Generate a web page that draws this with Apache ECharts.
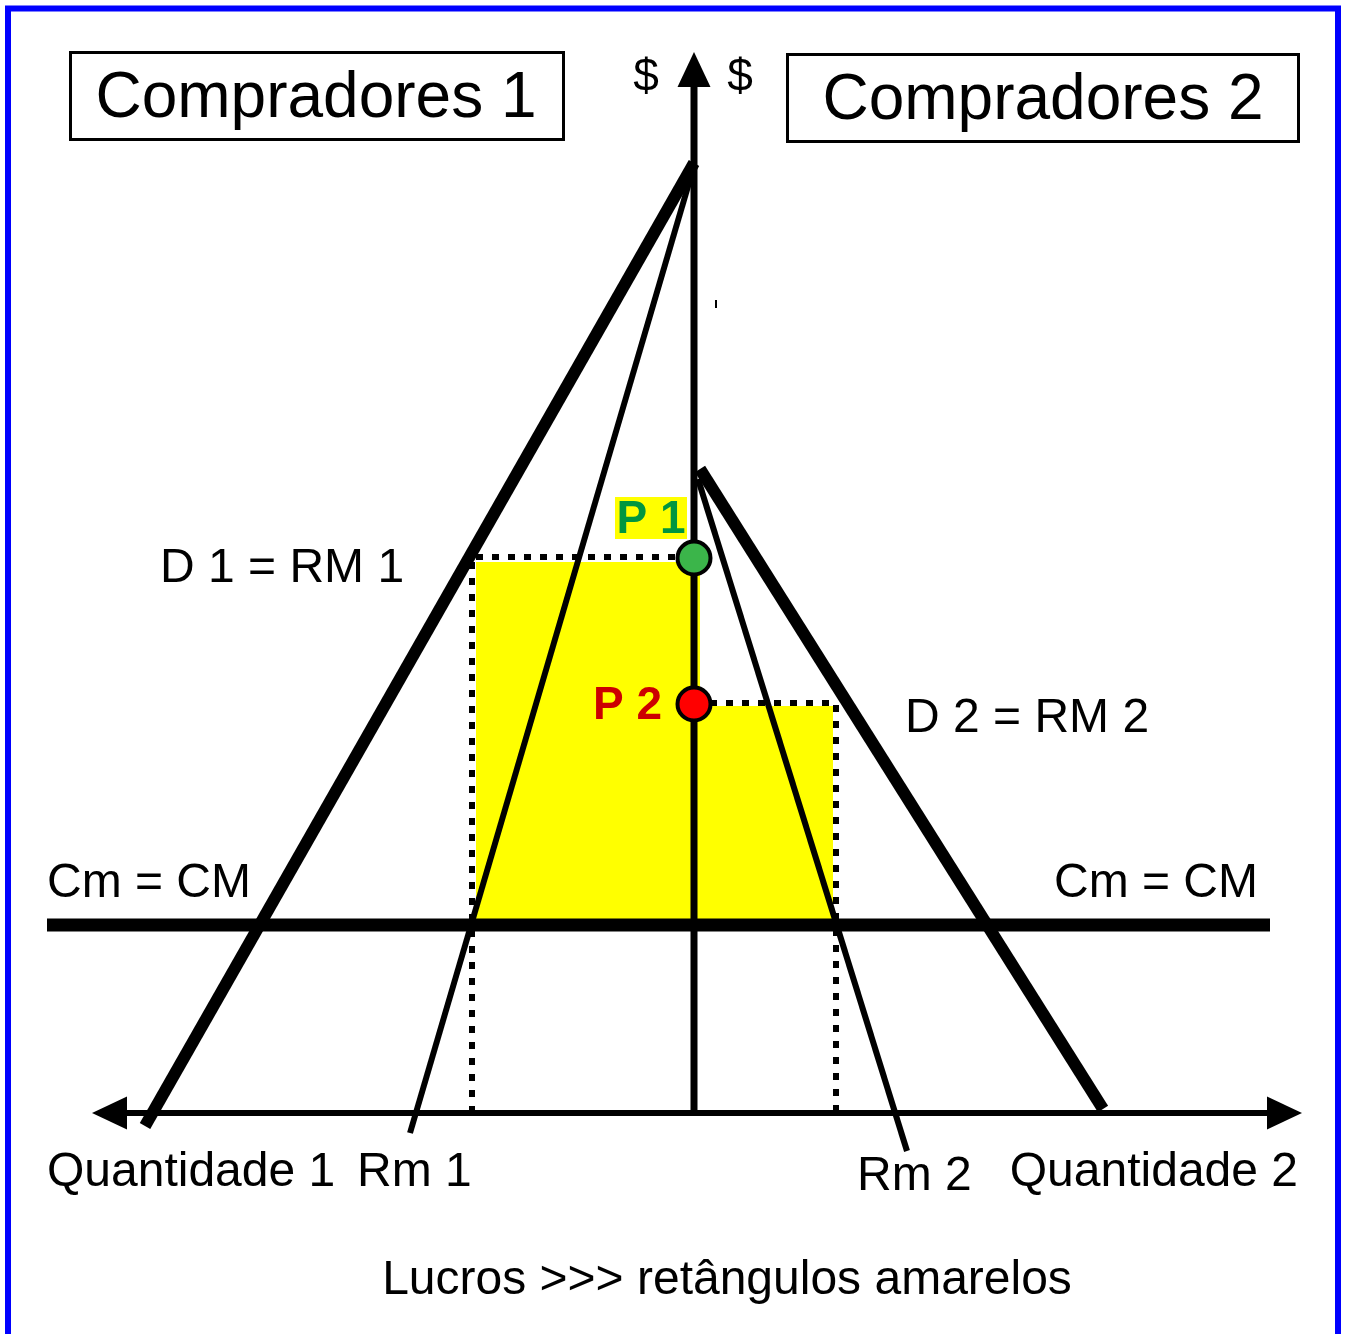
<!DOCTYPE html>
<html>
<head>
<meta charset="utf-8">
<script src="https://cdn.jsdelivr.net/npm/echarts@6/dist/echarts.min.js"></script>
<style>
html,body{margin:0;padding:0;background:#fff;}
#chart{width:1346px;height:1334px;}
</style>
</head>
<body>
<div id="chart"></div>
<script>
// ---- Diagram values (quantity: left = market 1, right = market 2; price up) ----
const costLevel = 188;                 // Cm = CM
const priceMarket1 = 556;              // P 1
const priceMarket2 = 410;              // P 2
const qtyMarket1 = -222;               // Q where Rm 1 = Cm
const qtyMarket2 = 142;                // Q where Rm 2 = Cm
const priceAxisLine = [[0, 0], [0, 1030]];
const qtyAxisLine = [[-592, 0], [596, 0]];
const arrowTips = [[0, 1061, 0, 1], [-602, 0, -1, 0], [608, 0, 1, 0]];
const costLine = [[-647, costLevel], [576, costLevel]];
const demand1 = [[0, 950], [-549, -13]];
const marginalRevenue1 = [[0, 947], [-284, -20]];
const demand2 = [[6, 644], [409, 4]];
const marginalRevenue2 = [[4, 634], [213, -38]];
const profitRects = [
  [-218, 6, costLevel, 551],
  [0, 139, costLevel, 407]
];
const guide1 = [[qtyMarket1, 0], [qtyMarket1, priceMarket1], [0, priceMarket1]];
const guide2 = [[0, priceMarket2], [qtyMarket2, priceMarket2], [qtyMarket2, 0]];
const pricePoints = [
  { value: [0, 555], itemStyle: { color: '#3BB54A' } },
  { value: [0, 409], itemStyle: { color: '#FF0000' } }
];
const stray = [[22, 805], [22, 813]];

const chart = echarts.init(document.getElementById('chart'), null, { renderer: 'canvas' });
const FONT = '"Liberation Sans", Arial, sans-serif';

function seg(data, width, z, dash) {
  return {
    type: 'line', data: data, symbol: 'none', silent: true, z: z,
    animation: false,
    lineStyle: { color: '#000', width: width, type: dash || 'solid', cap: 'butt', join: 'miter' }
  };
}

function txt(x, y, text, opts) {
  return Object.assign({
    type: 'text', x: x, y: y, z: 100,
    style: Object.assign({
      text: text, fill: '#000', font: '48px ' + FONT,
      textAlign: 'left', textVerticalAlign: 'middle'
    }, (opts && opts.style) || {})
  }, opts && opts.extra || {});
}

const option = {
  animation: false,
  backgroundColor: '#fff',
  grid: { left: 0, right: 0, top: 0, bottom: 0 },
  xAxis: { type: 'value', min: -694, max: 652, show: false },
  yAxis: { type: 'value', min: -221, max: 1113, show: false },
  series: [
    {
      type: 'custom', z: 1, silent: true,
      encode: { x: [0, 1], y: [2, 3] },
      data: profitRects,
      renderItem: function (params, api) {
        const a = api.coord([api.value(0), api.value(3)]);
        const b = api.coord([api.value(1), api.value(2)]);
        return { type: 'rect', shape: { x: a[0], y: a[1], width: b[0] - a[0], height: b[1] - a[1] }, style: { fill: '#FFFF00' } };
      }
    },
    seg(guide1, 6, 2, [7, 9]),
    seg(guide2, 6, 2, [7, 9]),
    seg(costLine, 13, 3),
    seg(priceAxisLine, 7, 3),
    seg(qtyAxisLine, 6, 3),
    seg(demand1, 12, 4),
    seg(marginalRevenue1, 6, 4),
    seg(demand2, 12, 4),
    seg(marginalRevenue2, 6, 4),
    seg(stray, 2, 4),
    {
      type: 'custom', z: 5, silent: true,
      encode: { x: 0, y: 1 },
      data: arrowTips,
      renderItem: function (params, api) {
        const t = api.coord([api.value(0), api.value(1)]);
        const dx = api.value(2), dy = -api.value(3);
        const len = 35, half = 16.5;
        const bx = t[0] - dx * len, by = t[1] - dy * len;
        const px = -dy, py = dx;
        return {
          type: 'polygon',
          shape: { points: [[t[0], t[1]], [bx + px * half, by + py * half], [bx - px * half, by - py * half]] },
          style: { fill: '#000' }
        };
      }
    },
    {
      type: 'scatter', z: 6, silent: true, symbol: 'circle', symbolSize: 33,
      data: pricePoints,
      itemStyle: { borderColor: '#000', borderWidth: 4, opacity: 1 }
    }
  ],
  graphic: [
    { type: 'rect', z: 200, shape: { x: 8, y: 8.5, width: 1330, height: 1400 }, style: { fill: null, stroke: '#0000FF', lineWidth: 6 } },
    { type: 'rect', z: 100, shape: { x: 70.5, y: 52.5, width: 493, height: 87 }, style: { fill: '#fff', stroke: '#000', lineWidth: 3 } },
    { type: 'rect', z: 100, shape: { x: 787.5, y: 54.5, width: 511, height: 87 }, style: { fill: '#fff', stroke: '#000', lineWidth: 3 } },
    txt(316, 99, 'Compradores 1', { style: { font: '64px ' + FONT, textAlign: 'center' }, extra: { z: 101 } }),
    txt(1043, 101, 'Compradores 2', { style: { font: '64px ' + FONT, textAlign: 'center' }, extra: { z: 101 } }),
    txt(646, 78, '$', { style: { font: '46px ' + FONT, textAlign: 'center' } }),
    txt(740, 78, '$', { style: { font: '46px ' + FONT, textAlign: 'center' } }),
    txt(160, 569, 'D 1 = RM 1'),
    { type: 'rect', z: 99, shape: { x: 615, y: 497, width: 72, height: 42 }, style: { fill: '#FFFF00' } },
    txt(651, 520, 'P 1', { style: { font: 'bold 46px ' + FONT, textAlign: 'center', fill: '#00963F' } }),
    txt(593, 706, 'P 2', { style: { font: 'bold 46px ' + FONT, fill: '#CC0000' } }),
    txt(905, 719, 'D 2 = RM 2'),
    txt(47, 884, 'Cm = CM'),
    txt(1258, 884, 'Cm = CM', { style: { textAlign: 'right' } }),
    txt(47, 1173, 'Quantidade 1'),
    txt(357, 1173, 'Rm 1'),
    txt(857, 1177, 'Rm 2'),
    txt(1298, 1173, 'Quantidade 2', { style: { textAlign: 'right' } }),
    txt(727, 1281, 'Lucros >>> retângulos amarelos', { style: { textAlign: 'center' } })
  ]
};
chart.setOption(option);
</script>
</body>
</html>
